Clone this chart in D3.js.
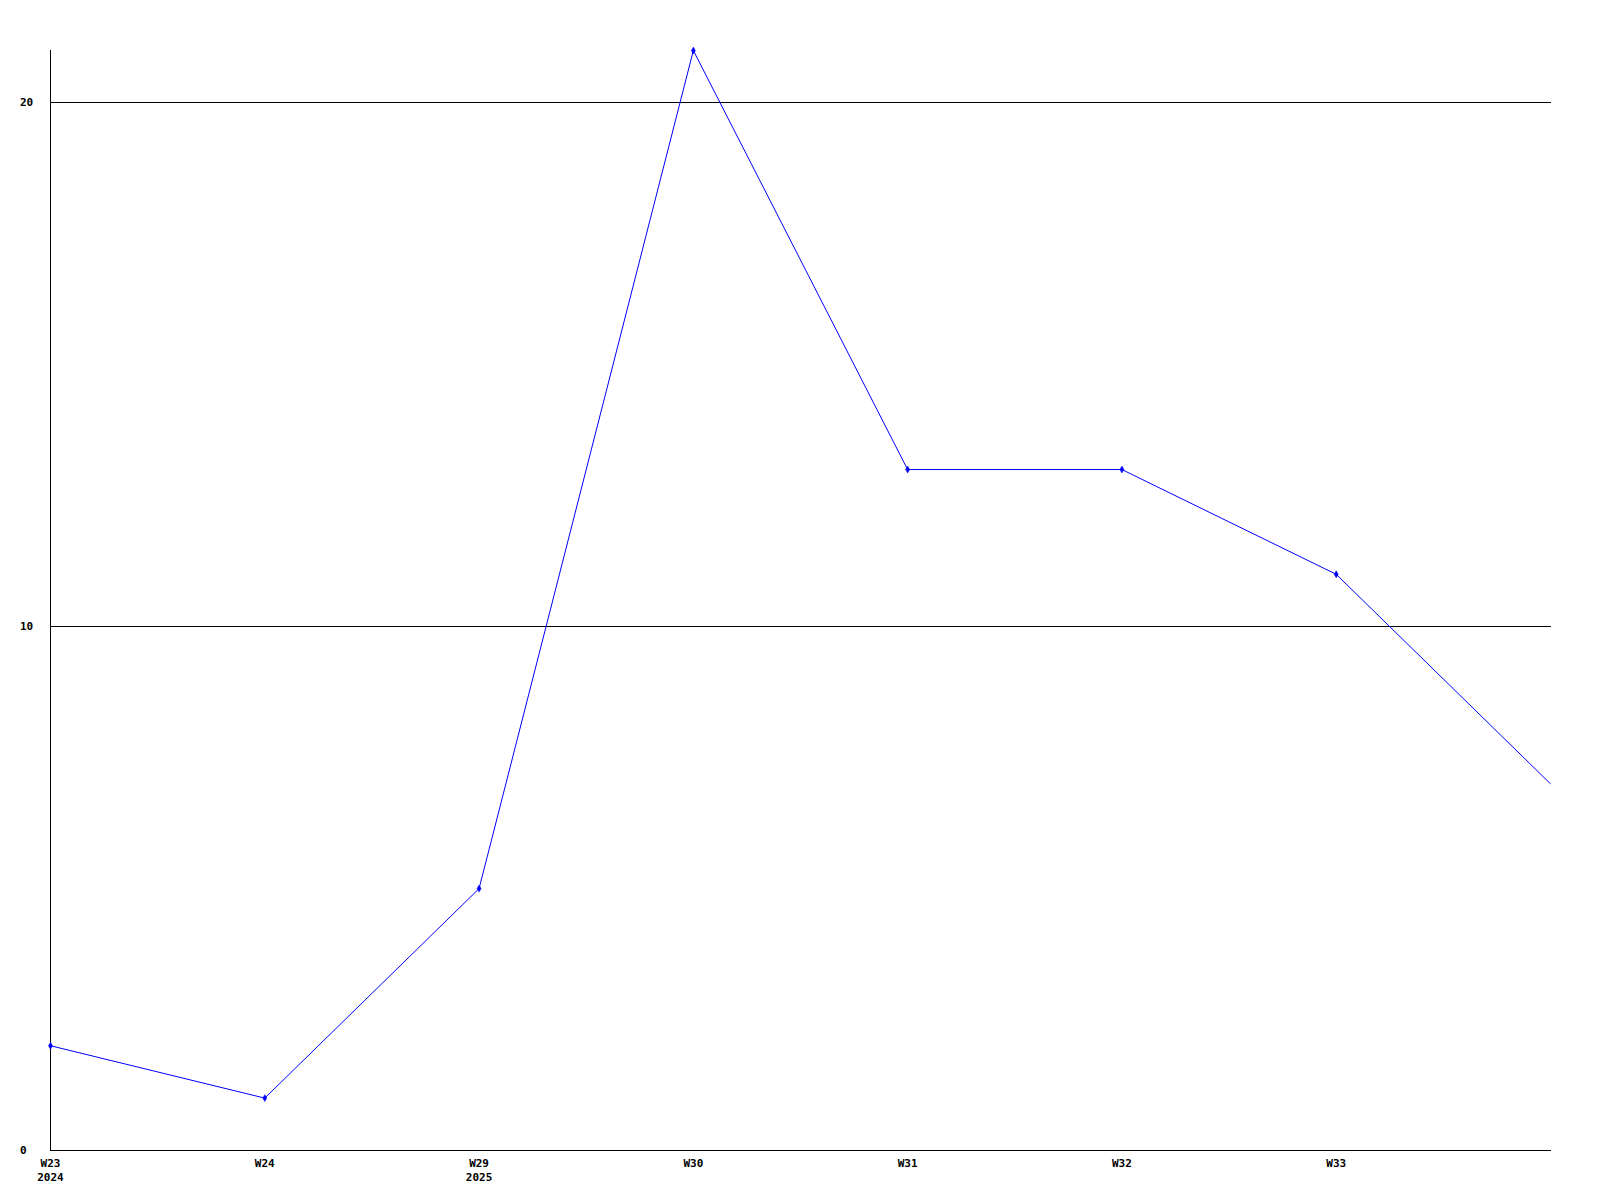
<!DOCTYPE html>
<html>
<head>
<meta charset="utf-8">
<script src="https://cdn.jsdelivr.net/npm/d3@7"></script>
<style>
  html, body { margin: 0; padding: 0; background: #fff; }
  svg { display: block; }
  text { font-family: "DejaVu Sans Mono", "Liberation Mono", monospace; font-weight: bold; font-size: 11px; fill: #000; }
</style>
</head>
<body>
<svg id="chart" width="1600" height="1200"></svg>
<script>
const categories = ["W23", "W24", "W29", "W30", "W31", "W32", "W33", ""];
const yearLabels = ["2024", "", "2025", "", "", "", "", ""];
const values = [2, 1, 5, 21, 13, 13, 11, 7];
const markerShown = [true, true, true, true, true, true, true, false];
const yTicks = [0, 10, 20];

(function () {
const svg = d3.select("#chart");
const mLeft = 50, mRight = 1550, mTop = 50, mBottom = 1150;

const x = d3.scalePoint().domain(d3.range(categories.length)).range([mLeft, mRight]);
const y = d3.scaleLinear().domain([0, 21]).range([mBottom, mTop]);

// grid lines
svg.append("g").selectAll("line").data(yTicks.filter(d => d > 0)).join("line")
  .attr("x1", mLeft).attr("x2", mRight + 1)
  .attr("y1", d => Math.round(y(d)) + 0.5).attr("y2", d => Math.round(y(d)) + 0.5)
  .attr("stroke", "#000").attr("stroke-width", 1);

// axes lines
svg.append("line").attr("x1", mLeft + 0.5).attr("x2", mLeft + 0.5).attr("y1", mTop).attr("y2", mBottom + 1)
  .attr("stroke", "#000");
svg.append("line").attr("x1", mLeft).attr("x2", mRight + 1).attr("y1", mBottom + 0.5).attr("y2", mBottom + 0.5)
  .attr("stroke", "#000");

// y labels
svg.append("g").selectAll("text").data(yTicks).join("text")
  .attr("x", 20).attr("y", d => y(d) + 4)
  .text(d => d);

// x labels
const xl = svg.append("g");
xl.selectAll("text.cat").data(categories).join("text").attr("class", "cat")
  .attr("x", (d, i) => x(i) + 0.5).attr("y", mBottom + 17)
  .attr("text-anchor", "middle").text(d => d);
xl.selectAll("text.yr").data(yearLabels).join("text").attr("class", "yr")
  .attr("x", (d, i) => x(i) + 0.5).attr("y", mBottom + 31)
  .attr("text-anchor", "middle").text(d => d);

// line
const line = d3.line().x((d, i) => x(i) + 0.5).y(d => y(d) + 0.5);
svg.append("path").datum(values).attr("d", line)
  .attr("fill", "none").attr("stroke", "#0000ff").attr("stroke-width", 1);

// markers
const sym = d3.symbol().type(d3.symbolDiamond).size(14);
svg.append("g").selectAll("path").data(values.map((v, i) => ({v, i})).filter(d => markerShown[d.i])).join("path")
  .attr("transform", d => `translate(${x(d.i) + 0.5},${y(d.v) + 0.5})`)
  .attr("d", sym).attr("fill", "#0000ff").attr("stroke", "#0000ff").attr("stroke-width", 0.5);
})();
</script>
</body>
</html>
